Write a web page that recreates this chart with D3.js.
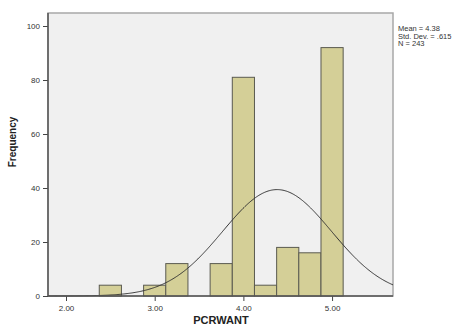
<!DOCTYPE html>
<html>
<head>
<meta charset="utf-8">
<script src="https://cdn.jsdelivr.net/npm/d3@7"></script>
<style>
  body { margin: 0; background: #fff; }
  svg { display: block; font-family: "Liberation Sans", Arial, sans-serif; }
</style>
</head>
<body>
<svg id="chart" width="463" height="326"></svg>
<script>
// histogram bins (centre of each 0.25 wide bin) and their counts
const binCentres = [2.5, 3.0, 3.25, 3.75, 4.0, 4.25, 4.5, 4.75, 5.0];
const binCounts  = [4, 4, 12, 12, 81, 4, 18, 16, 92];
const binWidth = 0.25;

const xTicks = [2, 3, 4, 5];
const yTicks = [0, 20, 40, 60, 80, 100];

// stats shown in the legend, also used for the normal curve
const mean = 4.38;
const stdDev = 0.615;
const nCount = 243;
const statLines = ["Mean = 4.38", "Std. Dev. = .615", "N = 243"];

const svg = d3.select("#chart");

const plotL = 48, plotR = 393, plotT = 13, plotB = 296;

const x = d3.scaleLinear().domain([1.797, 5.687]).range([plotL, plotR]);
const y = d3.scaleLinear().domain([0, 100]).range([plotB, 26]);

// plot area
svg.append("rect")
  .attr("x", plotL).attr("y", plotT)
  .attr("width", plotR - plotL).attr("height", plotB - plotT)
  .attr("fill", "#f0f0f0")
  .attr("stroke", "#a8a8a8")
  .attr("stroke-width", 1.5);

// bars
svg.selectAll(".bar")
  .data(binCentres)
  .enter().append("rect")
  .attr("class", "bar")
  .attr("x", function(d) { return x(d - binWidth / 2); })
  .attr("width", function(d) { return x(d + binWidth / 2) - x(d - binWidth / 2); })
  .attr("y", function(d, i) { return y(binCounts[i]); })
  .attr("height", function(d, i) { return plotB - y(binCounts[i]); })
  .attr("fill", "#d4cf97")
  .attr("stroke", "#5a5a50")
  .attr("stroke-width", 1);

// normal curve from mean / sd / N
const curvePts = d3.range(1.797, 5.6875, 0.01).map(function(v) {
  const z = (v - mean) / stdDev;
  const dens = Math.exp(-0.5 * z * z) / (stdDev * Math.sqrt(2 * Math.PI));
  return [v, dens * nCount * binWidth];
});

svg.append("path")
  .datum(curvePts)
  .attr("fill", "none")
  .attr("stroke", "#333")
  .attr("stroke-width", 1)
  .attr("d", d3.line()
    .x(function(d) { return x(d[0]); })
    .y(function(d) { return y(d[1]); }));

// axes
const xAxis = svg.append("g")
  .attr("transform", "translate(0," + plotB + ")")
  .call(d3.axisBottom(x).tickValues(xTicks).tickFormat(d3.format(".2f")).tickSize(5).tickSizeOuter(0));
const yAxis = svg.append("g")
  .attr("transform", "translate(" + plotL + ",0)")
  .call(d3.axisLeft(y).tickValues(yTicks).tickSize(5).tickSizeOuter(0));

[xAxis, yAxis].forEach(function(g) {
  g.select(".domain").remove();
  g.selectAll("line").attr("stroke", "#444");
  g.selectAll("text").attr("fill", "#333").style("font-size", "8px");
});
xAxis.selectAll("text").attr("dy", "0.9em");

svg.append("line")
  .attr("x1", plotL).attr("x2", plotL).attr("y1", plotT).attr("y2", plotB)
  .attr("stroke", "#555").attr("stroke-width", 1.5);
svg.append("line")
  .attr("x1", plotL).attr("x2", plotR).attr("y1", plotB).attr("y2", plotB)
  .attr("stroke", "#555").attr("stroke-width", 1.5);

// axis titles
svg.append("text")
  .attr("transform", "translate(16,142) rotate(-90)")
  .attr("text-anchor", "middle")
  .style("font-size", "10px").style("font-weight", "bold")
  .attr("fill", "#222")
  .text("Frequency");

svg.append("text")
  .attr("x", 221).attr("y", 324)
  .attr("text-anchor", "middle")
  .style("font-size", "11px").style("font-weight", "bold")
  .attr("fill", "#222")
  .text("PCRWANT");

// stats legend
svg.selectAll(".stat")
  .data(statLines)
  .enter().append("text")
  .attr("class", "stat")
  .attr("x", 398)
  .attr("y", function(d, i) { return 31 + i * 7.5; })
  .style("font-size", "7.5px")
  .attr("fill", "#333")
  .text(function(d) { return d; });
</script>
</body>
</html>
